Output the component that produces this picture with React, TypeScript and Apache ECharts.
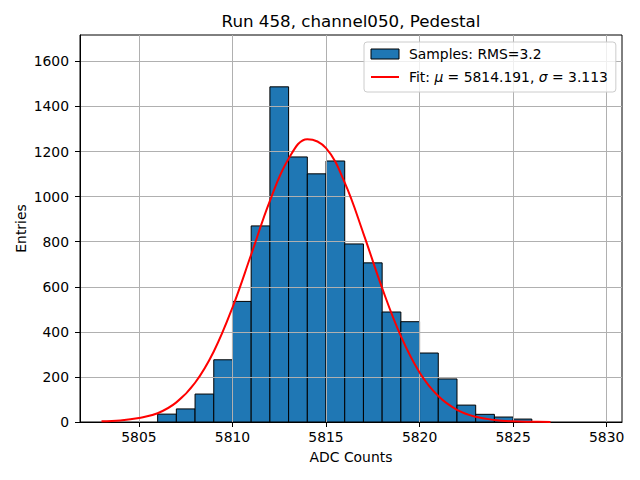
import React, { useEffect, useRef } from "react";
import * as echarts from "echarts";

const titleText = "Run 458, channel050, Pedestal";
const xAxisName = "ADC Counts";
const yAxisName = "Entries";
const histName = "Samples: RMS=3.2";
const fitName = "Fit: μ = 5814.191, σ = 3.113";

// histogram bin edges (left edges ... last right edge) and counts
const binEdges = [5806, 5807, 5808, 5809, 5810, 5811, 5812, 5813, 5814, 5815, 5816, 5817, 5818, 5819, 5820, 5821, 5822, 5823, 5824, 5825, 5826];
const counts = [35, 58, 124, 276, 535, 870, 1487, 1176, 1101, 1158, 790, 706, 488, 445, 306, 191, 75, 34, 22, 13];

// fitted curve
const curveX = [5803, 5804, 5805, 5806, 5807, 5808, 5809, 5810, 5811, 5812, 5813, 5814, 5815, 5816, 5817, 5818, 5819, 5820, 5821, 5822, 5823, 5824, 5825, 5826, 5827];
const curveY = [3, 7, 18, 39, 87, 174, 313, 508, 743, 981, 1168, 1255, 1215, 1062, 836, 594, 381, 220, 115, 54, 23, 9, 3, 1, 0];

const xTicks = [5805, 5810, 5815, 5820, 5825, 5830];
const yTicks = [0, 200, 400, 600, 800, 1000, 1200, 1400, 1600];
const xMin = 5801.85;
const xMax = 5830.82;
const yMax = 1717;

const FONT = "DejaVu Sans";
const FS = 13.9;
const GRID_COLOR = "#b0b0b0";

export default function App() {
  const ref = useRef<HTMLDivElement>(null);
  useEffect(() => {
    if (!ref.current) return;
    const chart = echarts.init(ref.current, undefined, { renderer: "svg" });
    const histData = counts.map((c, i) => [binEdges[i], binEdges[i + 1], c]);
    const lineData = curveX.map((x, i) => [x, curveY[i]]);
    const axisLine = { show: true, lineStyle: { color: "#000", width: 1 } };
    const tickBase = { show: true, length: 5, inside: false, lineStyle: { color: "#000", width: 1 } };
    chart.setOption({
      animation: false,
      title: {
        text: titleText,
        left: 351,
        textAlign: "center",
        top: 12,
        padding: 0,
        textStyle: { fontFamily: FONT, fontSize: 16.7, fontWeight: "normal", color: "#000" },
      },
      grid: {
        left: 80,
        right: 18,
        top: 35,
        bottom: 58,
        show: true,
        borderColor: "#000",
        borderWidth: 1,
        backgroundColor: "#fff",
        containLabel: false,
      },
      legend: {
        orient: "vertical",
        left: 364,
        top: 42,
        padding: [5, 8, 8, 6],
        itemWidth: 28,
        itemHeight: 10,
        itemGap: 9,
        backgroundColor: "rgba(255,255,255,0.8)",
        borderColor: "#cccccc",
        borderWidth: 1,
        borderRadius: 3,
        z: 6,
        data: [
          { name: histName, icon: "rect", itemStyle: { color: "#1f77b4", borderColor: "#000", borderWidth: 1 } },
          { name: fitName, itemStyle: { opacity: 0 } },
        ],
        formatter: (name: string) =>
          name === fitName
            ? "{a|Fit: }{i|μ}{a| = 5814.191, }{i|σ}{a| = 3.113}"
            : "{a|" + name + "}",
        textStyle: {
          fontFamily: FONT,
          fontSize: FS,
          color: "#000",
          lineHeight: 14,
          padding: [0, 0, 0, 5],
          rich: {
            a: { fontFamily: FONT, fontSize: FS, color: "#000", lineHeight: 14 },
            i: { fontFamily: FONT, fontSize: FS, color: "#000", fontStyle: "italic", lineHeight: 14 },
          },
        },
      },
      xAxis: {
        type: "value",
        min: xMin,
        max: xMax,
        z: 3,
        name: xAxisName,
        nameLocation: "middle",
        nameGap: 28,
        nameMoveOverlap: false,
        nameTextStyle: { fontFamily: FONT, fontSize: FS, color: "#000" },
        axisLine,
        axisTick: { ...tickBase, customValues: xTicks },
        splitLine: { show: false },
        axisLabel: {
          customValues: xTicks,
          margin: 8,
          fontFamily: FONT,
          fontSize: FS,
          color: "#000",
          formatter: (v: number) => String(v),
        },
      },
      yAxis: {
        type: "value",
        min: 0,
        max: yMax,
        interval: 200,
        z: 3,
        name: yAxisName,
        nameLocation: "middle",
        nameGap: 52,
        nameMoveOverlap: false,
        nameTextStyle: { fontFamily: FONT, fontSize: FS, color: "#000" },
        axisLine,
        axisTick: { ...tickBase, customValues: yTicks },
        splitLine: { show: true, lineStyle: { color: GRID_COLOR, width: 1 } },
        axisLabel: {
          customValues: yTicks,
          margin: 11,
          fontFamily: FONT,
          fontSize: FS,
          color: "#000",
          formatter: (v: number) => String(v),
        },
      },
      series: [
        {
          name: histName,
          type: "custom",
          z: 2,
          itemStyle: { color: "#1f77b4", borderColor: "#000", borderWidth: 1 },
          encode: { x: [0, 1], y: 2 },
          data: histData,
          renderItem: (params: any, api: any) => {
            const x0 = api.value(0);
            const x1 = api.value(1);
            const y = api.value(2);
            const p0 = api.coord([x0, y]);
            const p1 = api.coord([x1, 0]);
            return {
              type: "rect",
              shape: { x: p0[0], y: p0[1], width: p1[0] - p0[0], height: p1[1] - p0[1] },
              style: { fill: "#1f77b4", stroke: "#000", lineWidth: 1 },
            };
          },
          markLine: {
            silent: true,
            symbol: "none",
            label: { show: false },
            lineStyle: { color: GRID_COLOR, width: 1, type: "solid" },
            emphasis: { disabled: true },
            data: xTicks.map((v) => ({ xAxis: v })),
          },
        },
        {
          name: fitName,
          type: "line",
          z: 5,
          data: lineData,
          smooth: 0.4,
          symbol: "none",
          showSymbol: false,
          lineStyle: { color: "#ff0000", width: 2 },
          itemStyle: { color: "#ff0000" },
        },
      ],
    });
    return () => chart.dispose();
  }, []);
  return (
    <div
      ref={ref}
      style={{ position: "fixed", left: 0, top: 0, width: 640, height: 480, background: "#fff" }}
    />
  );
}
